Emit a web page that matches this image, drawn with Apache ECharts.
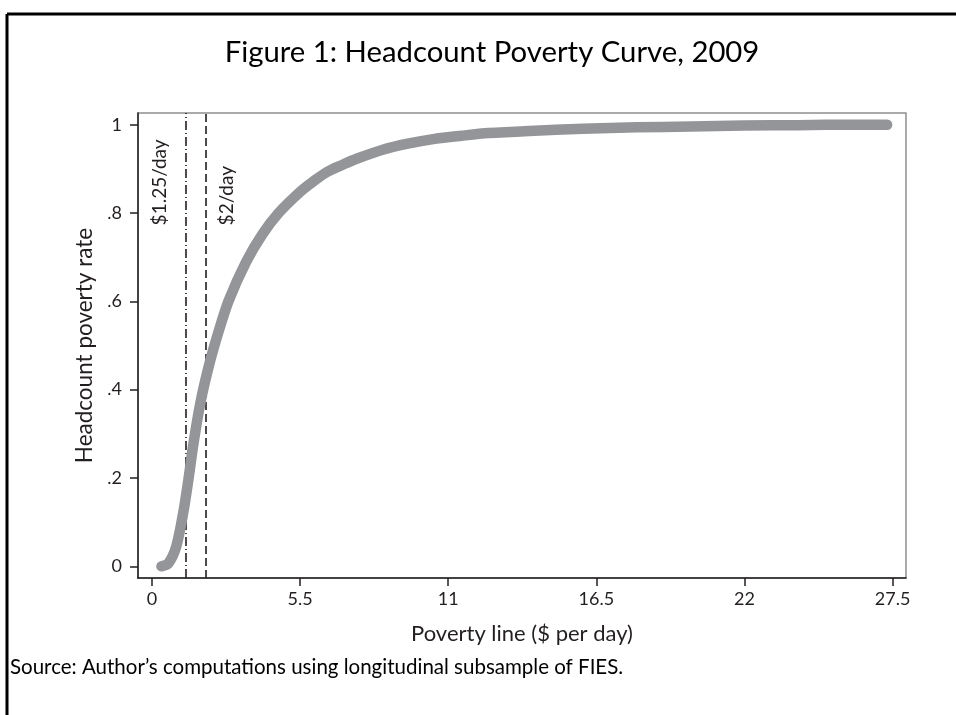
<!DOCTYPE html>
<html>
<head>
<meta charset="utf-8">
<script src="https://cdn.jsdelivr.net/npm/echarts@6/dist/echarts.min.js"></script>
<style>
html,body{margin:0;padding:0;background:#fff;}
#chart{width:956px;height:715px;}
</style>
</head>
<body>
<div id="chart"></div>
<script>
// ---- data ----
const povertyLine = [0.35, 0.6, 0.9, 1.17, 1.36, 1.54, 1.79, 2.1, 2.45, 2.85, 3.5, 4.1, 4.7, 5.5, 6.0, 6.5, 7.1, 7.6, 8.6, 9.5, 10.5, 11.5, 12.5, 14, 16, 18, 20, 22, 24, 26, 27.3];
const headcountRate = [0, 0.006, 0.045, 0.125, 0.2, 0.278, 0.368, 0.451, 0.527, 0.602, 0.69, 0.752, 0.8, 0.848, 0.872, 0.893, 0.91, 0.923, 0.944, 0.957, 0.968, 0.975, 0.981, 0.986, 0.991, 0.994, 0.996, 0.998, 0.999, 1.0, 1.0];
const xTicks = [0, 5.5, 11, 16.5, 22, 27.5];
const yTicks = [0, 0.2, 0.4, 0.6, 0.8, 1];
const yTickLabels = ['0', '.2', '.4', '.6', '.8', '1'];
const refLines = [1.25, 2];
const refLabels = ['$1.25/day', '$2/day'];
const refLabelY = 0.772;

const FONT = 'Lato';
const INK = '#231f20';
const chart = echarts.init(document.getElementById('chart'));

const option = {
  animation: false,
  backgroundColor: '#fff',
  grid: {left: 138, top: 113, right: 50, bottom: 137, show: true, borderColor: '#8e8e8e', borderWidth: 1.5},
  xAxis: {
    type: 'value', min: -0.52, max: 28.0,
    name: 'Poverty line ($ per day)', nameLocation: 'middle', nameGap: 45,
    nameTextStyle: {fontFamily: FONT, fontSize: 22, color: INK},
    axisLine: {show: true, onZero: false, lineStyle: {color: INK, width: 1.5}},
    axisTick: {show: true, length: 8, customValues: xTicks, lineStyle: {color: INK, width: 1.5}},
    axisLabel: {customValues: xTicks, margin: 12, fontFamily: FONT, fontSize: 18, color: INK,
      formatter: v => String(v)},
    splitLine: {show: false}
  },
  yAxis: {
    type: 'value', min: -0.0265, max: 1.0265,
    name: 'Headcount poverty rate', nameLocation: 'middle', nameGap: 42,
    nameTextStyle: {fontFamily: FONT, fontSize: 22.5, color: INK},
    axisLine: {show: true, onZero: false, lineStyle: {color: INK, width: 1.5}},
    axisTick: {show: true, length: 8, customValues: yTicks, lineStyle: {color: INK, width: 1.5}},
    axisLabel: {customValues: yTicks, margin: 16, fontFamily: FONT, fontSize: 18, color: INK,
      formatter: v => { const i = yTicks.findIndex(t => Math.abs(t - v) < 1e-9); return i >= 0 ? yTickLabels[i] : ''; }},
    splitLine: {show: false}
  },
  series: [{
    type: 'line',
    data: povertyLine.map((x, i) => [x, headcountRate[i]]),
    showSymbol: false,
    smooth: 0.3,
    lineStyle: {color: '#939598', width: 10.5, cap: 'round', join: 'round'},
    z: 3,
    markLine: {
      silent: true,
      symbol: ['none', 'none'],
      label: {show: false},
      data: [
        [{coord: [refLines[0], -0.0265], lineStyle: {type: [9, 3, 1, 3], color: INK, width: 1.6}}, {coord: [refLines[0], 1.0265]}],
        [{coord: [refLines[1], -0.0265], lineStyle: {type: [8, 4], color: INK, width: 1.6}}, {coord: [refLines[1], 1.0265]}]
      ],
      z: 2
    }
  }]
};
chart.setOption(option);

// reference labels positioned through the chart's own scales
const p1 = chart.convertToPixel({xAxisIndex: 0, yAxisIndex: 0}, [refLines[0], refLabelY]);
const p2 = chart.convertToPixel({xAxisIndex: 0, yAxisIndex: 0}, [refLines[1], refLabelY]);

chart.setOption({
  graphic: [
    {type: 'line', shape: {x1: 7, y1: 14, x2: 956, y2: 14}, style: {stroke: '#000', lineWidth: 3}},
    {type: 'line', shape: {x1: 7, y1: 14, x2: 7, y2: 715}, style: {stroke: '#000', lineWidth: 3}},
    {type: 'text', x: 492, y: 53, style: {text: 'Figure 1: Headcount Poverty Curve, 2009', fontFamily: FONT, fontSize: 29.3, fill: '#000', align: 'center', verticalAlign: 'middle'}},
    {type: 'text', x: 10, y: 667, style: {text: 'Source: Author\u2019s computations using longitudinal subsample of FIES.', fontFamily: FONT, fontSize: 20.5, fill: '#000', align: 'left', verticalAlign: 'middle'}},
    {type: 'text', x: p1[0] - 26, y: p1[1], rotation: Math.PI / 2, style: {text: refLabels[0], fontFamily: FONT, fontSize: 19, fill: INK, align: 'left', verticalAlign: 'middle'}},
    {type: 'text', x: p2[0] + 21, y: p2[1], rotation: Math.PI / 2, style: {text: refLabels[1], fontFamily: FONT, fontSize: 19, fill: INK, align: 'left', verticalAlign: 'middle'}}
  ]
});
</script>
</body>
</html>
